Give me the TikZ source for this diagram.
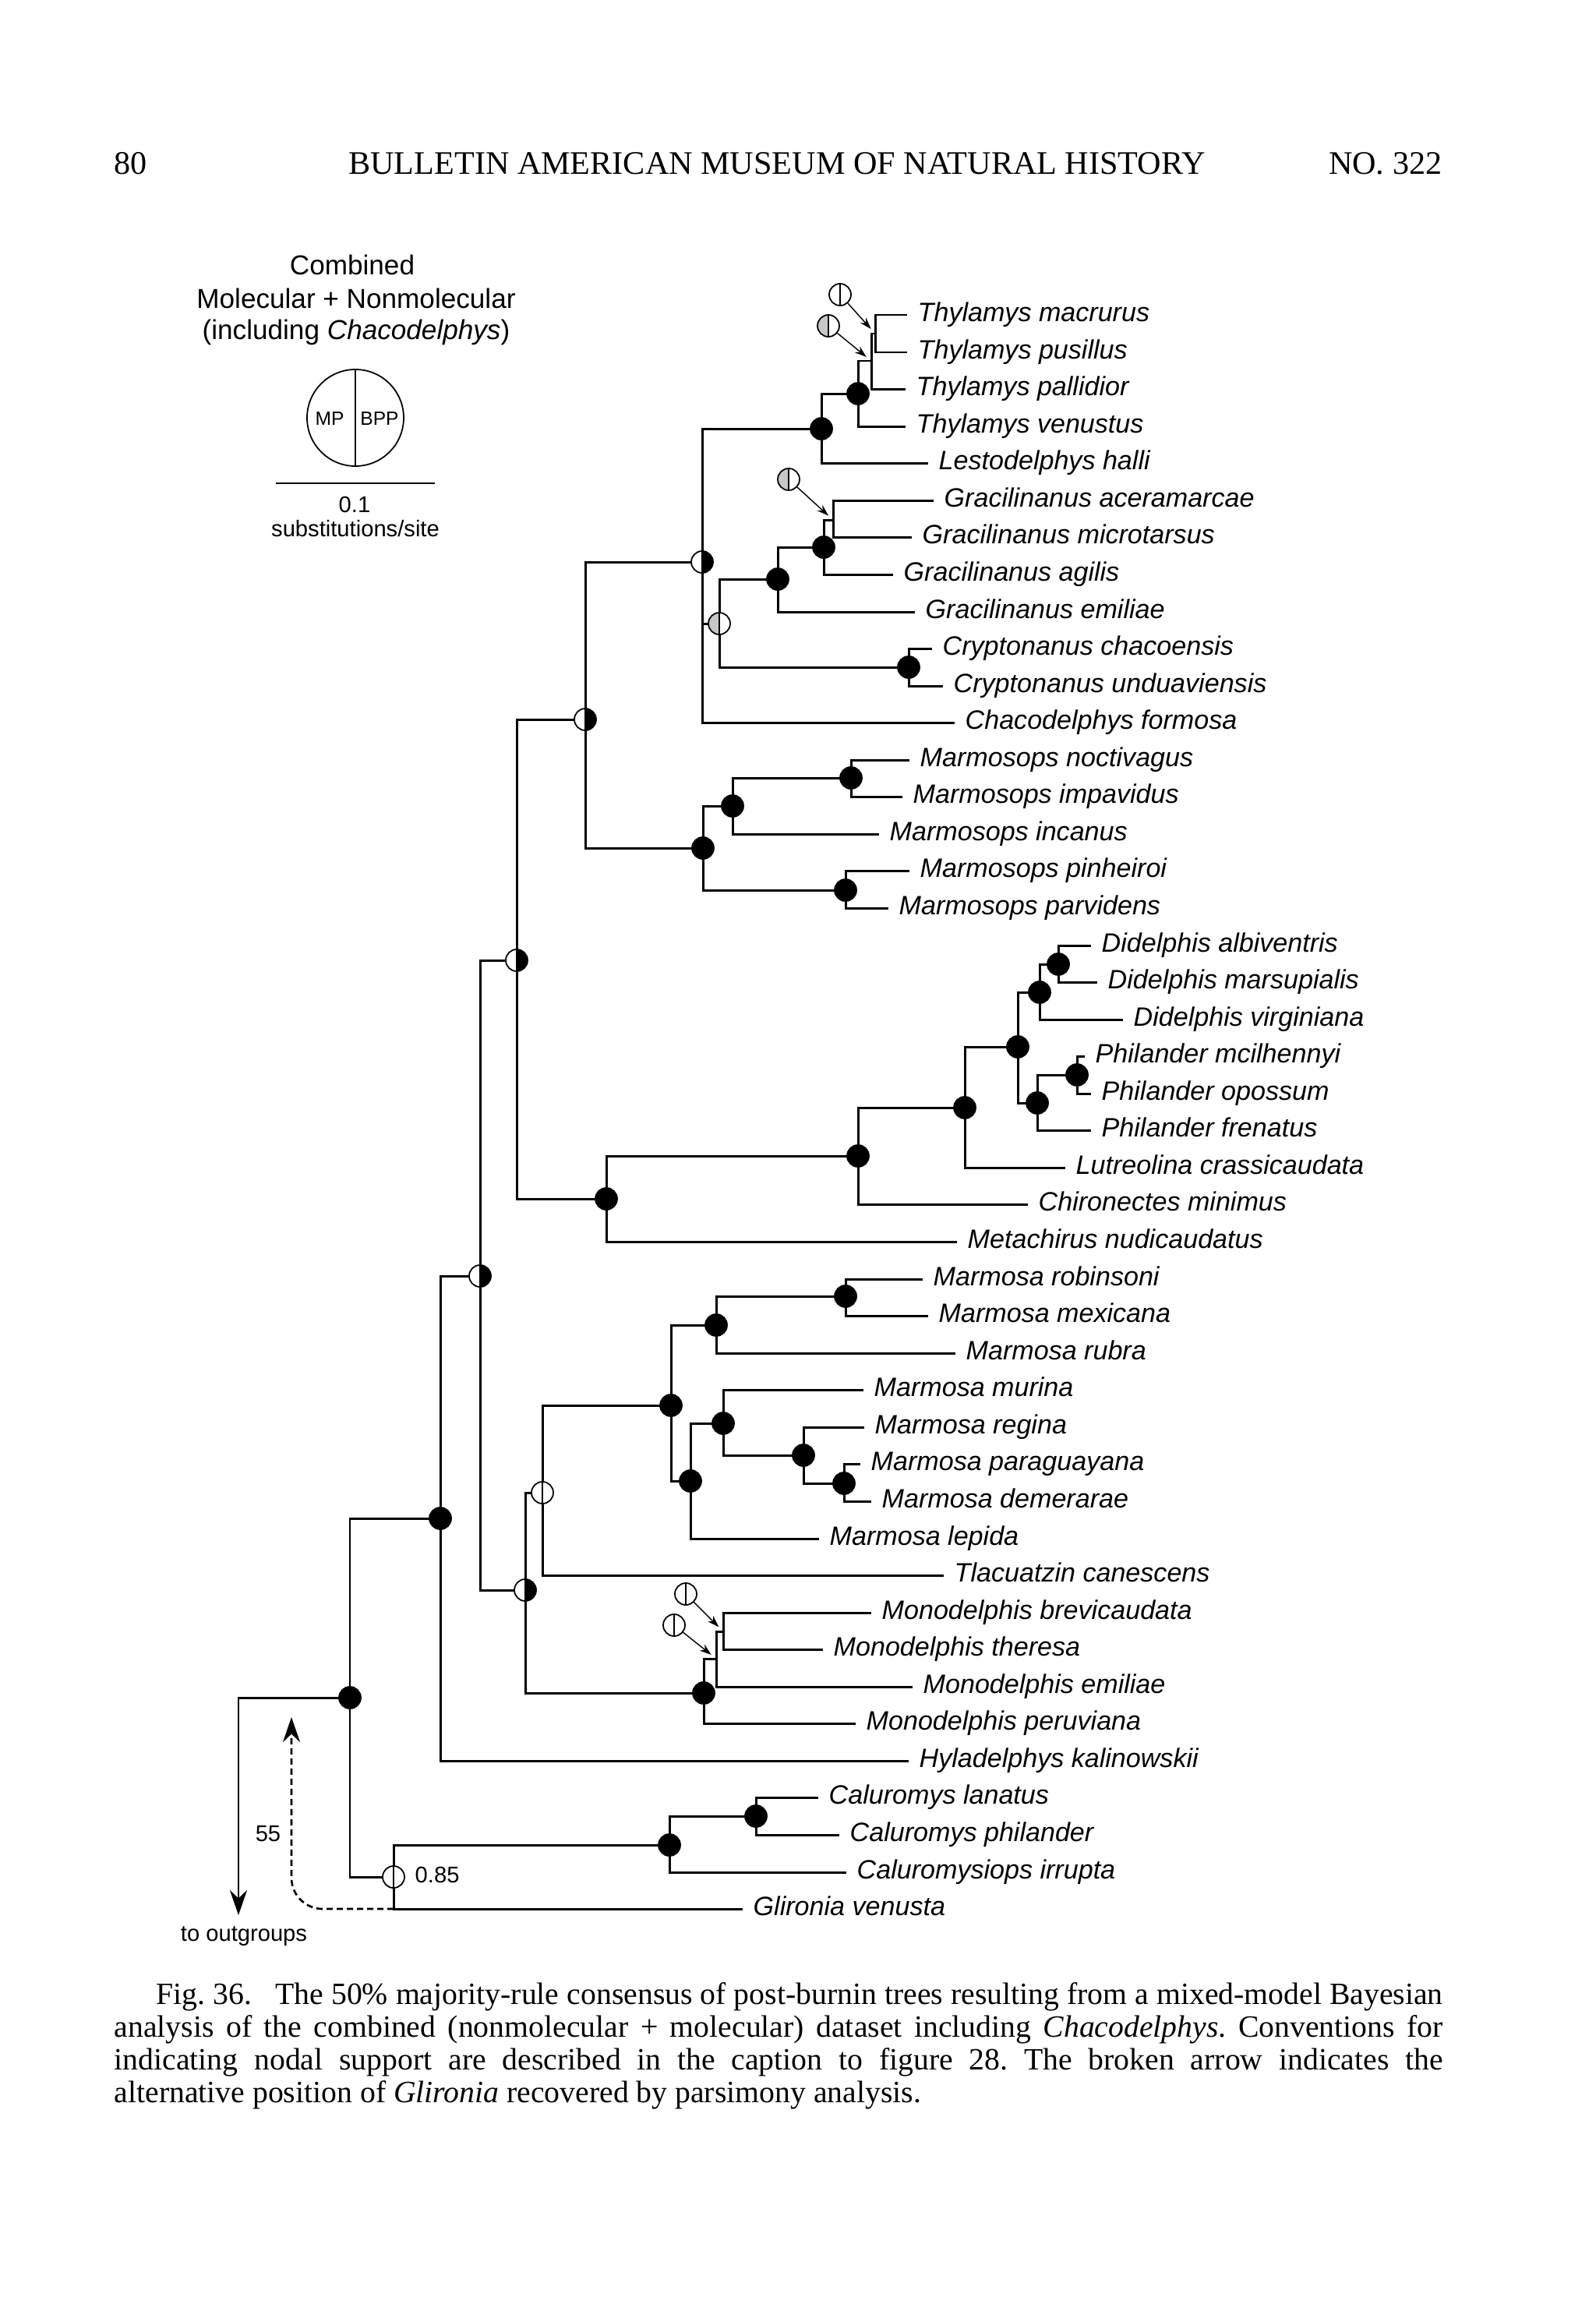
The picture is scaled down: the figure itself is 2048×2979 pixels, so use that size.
\documentclass[tikz,border=0pt]{standalone}
\usepackage{fontspec}
\setmainfont{Liberation Serif}
\setsansfont{Liberation Sans}
\usetikzlibrary{arrows.meta}

\tikzset{
  branch/.style={line width=0.85pt},
  taxon/.style={anchor=west, inner xsep=1.3mm, inner ysep=0pt, text height=7pt, text depth=2pt,
    font=\sffamily\itshape\fontsize{9.7}{11}\selectfont},
  legendtext/.style={anchor=base, inner sep=0pt, font=\sffamily\fontsize{10}{12}\selectfont},
  smalltext/.style={anchor=base, inner sep=0pt, font=\sffamily\fontsize{8.3}{10}\selectfont},
  headtext/.style={anchor=base, inner sep=0pt, font=\fontsize{12}{14}\selectfont},
  bp/.style 2 args={circle, draw, line width=0.5pt, minimum size=2.8mm, inner sep=0pt,
    path picture={
      \fill[#1] (path picture bounding box.south west) rectangle (path picture bounding box.north);
      \fill[#2] (path picture bounding box.south) rectangle (path picture bounding box.north east);
      \draw[line width=0.5pt] (path picture bounding box.north) -- (path picture bounding box.south);}},
  ssBlack/.style={bp={black}{black}},
  ssHalf/.style={bp={white}{black}},
  ssWhite/.style={bp={white}{white}},
  ssGray/.style={bp={black!22}{white}},
  pointer/.style={line width=0.4pt, -{Stealth[length=1.5mm,width=1mm]}, shorten >=0.8mm},
  altpath/.style={line width=0.75pt, dash pattern=on 0.8mm off 0.5mm, rounded corners=4mm,
    -{Stealth[length=3.2mm,width=2.2mm]}},
}

\begin{document}
\begin{tikzpicture}[x=0.1mm, y=-0.1mm]
        \fill[white] (0,0) rectangle (2048,2979);
        \useasboundingbox (0,0) rectangle (2048,2979);

        \node[headtext, anchor=base west] (pageno) at (146,223) {80};
        \node[headtext] (journal) at (997,223) {BULLETIN AMERICAN MUSEUM OF NATURAL HISTORY};
        \node[headtext, anchor=base east] (issue) at (1851,223) {NO. 322};

        \node[legendtext] (title1) at (452,352) {Combined};
        \node[legendtext] (title2) at (457,395) {Molecular + Nonmolecular};
        \node[legendtext] (title3) at (457,435) {(including \textit{Chacodelphys})};
        \node[circle, draw, line width=0.5pt, minimum size=12.4mm, inner sep=0pt] (legend) at (456,536) {};
        \draw[line width=0.5pt] (legend.north) -- (legend.south);
        \node[anchor=base, inner sep=0pt, font=\sffamily\fontsize{7}{8}\selectfont] (mp) at (423,545) {MP};
        \node[anchor=base, inner sep=0pt, font=\sffamily\fontsize{7}{8}\selectfont] (bpp) at (487,545) {BPP};
        \coordinate (sbL) at (354,620);
        \coordinate (sbR) at (558,620);
        \draw[line width=0.5pt] (sbL) -- (sbR);
        \node[smalltext] (sbval) at (455,657) {0.1};
        \node[smalltext] (sbunit) at (456,688) {substitutions/site};

        \coordinate (nTmp) at (1123,428);
        \coordinate (nTmpp) at (1118,463);
        \coordinate (nT) at (1101,505);
        \coordinate (nTL) at (1054,550);
        \coordinate (nGam) at (1069,667);
        \coordinate (nGama) at (1057,702);
        \coordinate (nG) at (998,743);
        \coordinate (nC) at (1166,856);
        \coordinate (nGC) at (923,800);
        \coordinate (nThyl) at (901,721);
        \coordinate (nMni) at (1092,998);
        \coordinate (nMnii) at (940,1034);
        \coordinate (nMpp) at (1085,1142);
        \coordinate (nMs) at (902,1088);
        \coordinate (nTM) at (751,923);
        \coordinate (nDam) at (1358,1237);
        \coordinate (nD) at (1334,1273);
        \coordinate (nPmo) at (1382,1379);
        \coordinate (nP) at (1331,1415);
        \coordinate (nDP) at (1306,1343);
        \coordinate (nDPL) at (1238,1421);
        \coordinate (nDPLC) at (1101,1483);
        \coordinate (nDid) at (778,1538);
        \coordinate (nTMD) at (663,1232);
        \coordinate (nMrm) at (1085,1663);
        \coordinate (nMrmr) at (919,1700);
        \coordinate (nMpd) at (1083,1903);
        \coordinate (nMrpd) at (1031,1867);
        \coordinate (nMmrpd) at (928,1826);
        \coordinate (nMl) at (886,1900);
        \coordinate (nMar) at (861,1803);
        \coordinate (nMT) at (696,1915);
        \coordinate (nMbt) at (928,2093);
        \coordinate (nMbte) at (919,2128);
        \coordinate (nMo) at (903,2172);
        \coordinate (nMarMo) at (674,2040);
        \coordinate (nAll) at (616,1637);
        \coordinate (nHy) at (565,1948);
        \coordinate (nClp) at (970,2330);
        \coordinate (nCl) at (859,2367);
        \coordinate (nCG) at (505,2408);
        \coordinate (nRoot) at (449,2178);
        \coordinate (outg) at (306,2457);
        \coordinate (alt) at (374,2203);

        \node[taxon] (tTmac) at (1164,404) {Thylamys macrurus};
        \node[taxon] (tTpus) at (1164,452) {Thylamys pusillus};
        \node[taxon] (tTpal) at (1162,499) {Thylamys pallidior};
        \node[taxon] (tTven) at (1162,547) {Thylamys venustus};
        \node[taxon] (tLhal) at (1191,594) {Lestodelphys halli};
        \node[taxon] (tGace) at (1198,642) {Gracilinanus aceramarcae};
        \node[taxon] (tGmic) at (1170,689) {Gracilinanus microtarsus};
        \node[taxon] (tGagi) at (1146,737) {Gracilinanus agilis};
        \node[taxon] (tGemi) at (1174,785) {Gracilinanus emiliae};
        \node[taxon] (tCcha) at (1196,832) {Cryptonanus chacoensis};
        \node[taxon] (tCund) at (1210,880) {Cryptonanus unduaviensis};
        \node[taxon] (tCfor) at (1225,927) {Chacodelphys formosa};
        \node[taxon] (tMnoc) at (1167,975) {Marmosops noctivagus};
        \node[taxon] (tMimp) at (1158,1022) {Marmosops impavidus};
        \node[taxon] (tMinc) at (1128,1070) {Marmosops incanus};
        \node[taxon] (tMpin) at (1167,1117) {Marmosops pinheiroi};
        \node[taxon] (tMpar) at (1140,1165) {Marmosops parvidens};
        \node[taxon] (tDalb) at (1400,1213) {Didelphis albiventris};
        \node[taxon] (tDmar) at (1408,1260) {Didelphis marsupialis};
        \node[taxon] (tDvir) at (1441,1308) {Didelphis virginiana};
        \node[taxon] (tPmci) at (1392,1355) {Philander mcilhennyi};
        \node[taxon] (tPopo) at (1400,1403) {Philander opossum};
        \node[taxon] (tPfre) at (1400,1450) {Philander frenatus};
        \node[taxon] (tLcra) at (1367,1498) {Lutreolina crassicaudata};
        \node[taxon] (tCmin) at (1319,1545) {Chironectes minimus};
        \node[taxon] (tMnud) at (1228,1593) {Metachirus nudicaudatus};
        \node[taxon] (tMrob) at (1184,1641) {Marmosa robinsoni};
        \node[taxon] (tMmex) at (1191,1688) {Marmosa mexicana};
        \node[taxon] (tMrub) at (1226,1736) {Marmosa rubra};
        \node[taxon] (tMmur) at (1108,1783) {Marmosa murina};
        \node[taxon] (tMreg) at (1109,1831) {Marmosa regina};
        \node[taxon] (tMpga) at (1104,1878) {Marmosa paraguayana};
        \node[taxon] (tMdem) at (1118,1926) {Marmosa demerarae};
        \node[taxon] (tMlep) at (1051,1974) {Marmosa lepida};
        \node[taxon] (tTcan) at (1211,2021) {Tlacuatzin canescens};
        \node[taxon] (tMbre) at (1118,2069) {Monodelphis brevicaudata};
        \node[taxon] (tMthe) at (1056,2116) {Monodelphis theresa};
        \node[taxon] (tMemi) at (1171,2164) {Monodelphis emiliae};
        \node[taxon] (tMper) at (1098,2211) {Monodelphis peruviana};
        \node[taxon] (tHkal) at (1166,2259) {Hyladelphys kalinowskii};
        \node[taxon] (tClan) at (1050,2306) {Caluromys lanatus};
        \node[taxon] (tCphi) at (1077,2354) {Caluromys philander};
        \node[taxon] (tCirr) at (1086,2402) {Caluromysiops irrupta};
        \node[taxon] (tGven) at (953,2449) {Glironia venusta};

        \draw[branch] (nTmp) |- (tTmac.west) (nTmp) |- (tTpus.west);
        \draw[branch] (nTmpp) |- (nTmp) (nTmpp) |- (tTpal.west);
        \draw[branch] (nT) |- (nTmpp) (nT) |- (tTven.west);
        \draw[branch] (nTL) |- (nT) (nTL) |- (tLhal.west);
        \draw[branch] (nGam) |- (tGace.west) (nGam) |- (tGmic.west);
        \draw[branch] (nGama) |- (nGam) (nGama) |- (tGagi.west);
        \draw[branch] (nG) |- (nGama) (nG) |- (tGemi.west);
        \draw[branch] (nC) |- (tCcha.west) (nC) |- (tCund.west);
        \draw[branch] (nGC) |- (nG) (nGC) |- (nC);
        \draw[branch] (nThyl) |- (nTL) (nThyl) |- (nGC) (nThyl) |- (tCfor.west);
        \draw[branch] (nMni) |- (tMnoc.west) (nMni) |- (tMimp.west);
        \draw[branch] (nMnii) |- (nMni) (nMnii) |- (tMinc.west);
        \draw[branch] (nMpp) |- (tMpin.west) (nMpp) |- (tMpar.west);
        \draw[branch] (nMs) |- (nMnii) (nMs) |- (nMpp);
        \draw[branch] (nTM) |- (nThyl) (nTM) |- (nMs);
        \draw[branch] (nDam) |- (tDalb.west) (nDam) |- (tDmar.west);
        \draw[branch] (nD) |- (nDam) (nD) |- (tDvir.west);
        \draw[branch] (nPmo) |- (tPmci.west) (nPmo) |- (tPopo.west);
        \draw[branch] (nP) |- (nPmo) (nP) |- (tPfre.west);
        \draw[branch] (nDP) |- (nD) (nDP) |- (nP);
        \draw[branch] (nDPL) |- (nDP) (nDPL) |- (tLcra.west);
        \draw[branch] (nDPLC) |- (nDPL) (nDPLC) |- (tCmin.west);
        \draw[branch] (nDid) |- (nDPLC) (nDid) |- (tMnud.west);
        \draw[branch] (nTMD) |- (nTM) (nTMD) |- (nDid);
        \draw[branch] (nMrm) |- (tMrob.west) (nMrm) |- (tMmex.west);
        \draw[branch] (nMrmr) |- (nMrm) (nMrmr) |- (tMrub.west);
        \draw[branch] (nMpd) |- (tMpga.west) (nMpd) |- (tMdem.west);
        \draw[branch] (nMrpd) |- (tMreg.west) (nMrpd) |- (nMpd);
        \draw[branch] (nMmrpd) |- (tMmur.west) (nMmrpd) |- (nMrpd);
        \draw[branch] (nMl) |- (nMmrpd) (nMl) |- (tMlep.west);
        \draw[branch] (nMar) |- (nMrmr) (nMar) |- (nMl);
        \draw[branch] (nMT) |- (nMar) (nMT) |- (tTcan.west);
        \draw[branch] (nMbt) |- (tMbre.west) (nMbt) |- (tMthe.west);
        \draw[branch] (nMbte) |- (nMbt) (nMbte) |- (tMemi.west);
        \draw[branch] (nMo) |- (nMbte) (nMo) |- (tMper.west);
        \draw[branch] (nMarMo) |- (nMT) (nMarMo) |- (nMo);
        \draw[branch] (nAll) |- (nTMD) (nAll) |- (nMarMo);
        \draw[branch] (nHy) |- (nAll) (nHy) |- (tHkal.west);
        \draw[branch] (nClp) |- (tClan.west) (nClp) |- (tCphi.west);
        \draw[branch] (nCl) |- (nClp) (nCl) |- (tCirr.west);
        \draw[branch] (nCG) |- (nCl) (nCG) |- (tGven.west);
        \draw[branch] (nRoot) |- (nHy) (nRoot) |- (nCG);
        \draw[branch, -{Stealth[length=3.2mm,width=2.2mm]}] (nRoot) -| (outg);
        \draw[altpath] (nCG |- tGven.west) -| (alt);

        \node[ssBlack] (cT) at (nT) {};
        \node[ssBlack] (cTL) at (nTL) {};
        \node[ssBlack] (cGama) at (nGama) {};
        \node[ssBlack] (cG) at (nG) {};
        \node[ssBlack] (cC) at (nC) {};
        \node[ssGray] (cGC) at (nGC) {};
        \node[ssHalf] (cThyl) at (nThyl) {};
        \node[ssBlack] (cMni) at (nMni) {};
        \node[ssBlack] (cMnii) at (nMnii) {};
        \node[ssBlack] (cMpp) at (nMpp) {};
        \node[ssBlack] (cMs) at (nMs) {};
        \node[ssHalf] (cTM) at (nTM) {};
        \node[ssBlack] (cDam) at (nDam) {};
        \node[ssBlack] (cD) at (nD) {};
        \node[ssBlack] (cPmo) at (nPmo) {};
        \node[ssBlack] (cP) at (nP) {};
        \node[ssBlack] (cDP) at (nDP) {};
        \node[ssBlack] (cDPL) at (nDPL) {};
        \node[ssBlack] (cDPLC) at (nDPLC) {};
        \node[ssBlack] (cDid) at (nDid) {};
        \node[ssHalf] (cTMD) at (nTMD) {};
        \node[ssBlack] (cMrm) at (nMrm) {};
        \node[ssBlack] (cMrmr) at (nMrmr) {};
        \node[ssBlack] (cMpd) at (nMpd) {};
        \node[ssBlack] (cMrpd) at (nMrpd) {};
        \node[ssBlack] (cMmrpd) at (nMmrpd) {};
        \node[ssBlack] (cMl) at (nMl) {};
        \node[ssBlack] (cMar) at (nMar) {};
        \node[ssWhite] (cMT) at (nMT) {};
        \node[ssBlack] (cMo) at (nMo) {};
        \node[ssHalf] (cMarMo) at (nMarMo) {};
        \node[ssHalf] (cAll) at (nAll) {};
        \node[ssBlack] (cHy) at (nHy) {};
        \node[ssBlack] (cClp) at (nClp) {};
        \node[ssBlack] (cCl) at (nCl) {};
        \node[ssWhite] (cCG) at (nCG) {};
        \node[ssBlack] (cRoot) at (nRoot) {};

        \node[ssWhite] (sTmp) at (1078,378) {};
        \node[ssGray] (sTmpp) at (1063,418) {};
        \node[ssGray] (sGam) at (1012,615) {};
        \node[ssWhite] (sMbt) at (880,2045) {};
        \node[ssWhite] (sMbte) at (865,2085) {};
        \draw[pointer] (sTmp) -- (nTmp);
        \draw[pointer] (sTmpp) -- (nTmpp);
        \draw[pointer] (sGam) -- (nGam);
        \draw[pointer] (sMbt) -- (nMbt);
        \draw[pointer] (sMbte) -- (nMbte);

        \node[smalltext, anchor=base west] (ppCG) at (532,2415) {0.85};
        \node[smalltext] (bsAlt) at (344,2362) {55};
        \node[smalltext] (outLabel) at (313,2490) {to outgroups};

        \node[anchor=north west, inner sep=0pt, text width=170.5mm, align=justify,
              font=\fontsize{11.3}{11.95}\selectfont] (caption) at (146,2543)
          {\frenchspacing\hyphenpenalty=10000\hspace*{5.4mm}Fig. 36.\hspace{3mm}The 50\% majority-rule consensus of post-burnin trees resulting from a mixed-model Bayesian\linebreak
           analysis of the combined (nonmolecular + molecular) dataset including \textit{Chacodelphys}. Conventions for\linebreak
           indicating nodal support are described in the caption to figure 28. The broken arrow indicates the\linebreak
           alternative position of \textit{Glironia} recovered by parsimony analysis.};
    \end{tikzpicture}
\end{document}
